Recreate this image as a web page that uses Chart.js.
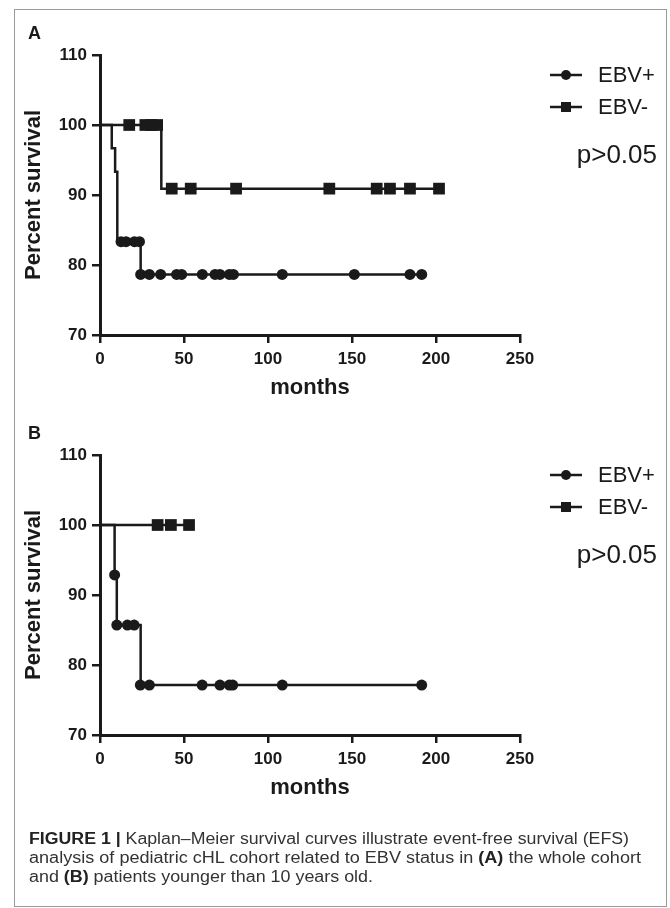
<!DOCTYPE html>
<html>
<head>
<meta charset="utf-8">
<script src="https://cdn.jsdelivr.net/npm/chart.js@4/dist/chart.umd.min.js"></script>
<style>
  html, body { margin:0; padding:0; background:#fff; }
  body { width:670px; height:908px; position:relative; overflow:hidden; font-family:"Liberation Sans", Arial, sans-serif; }
  .frame { position:absolute; left:14px; top:9px; width:651px; height:896px; border:1px solid #9a9a9a; }
  canvas { position:absolute; left:0; }
  .cap { position:absolute; left:29px; white-space:nowrap; font-size:16px; line-height:19px; color:#333; transform-origin:0 0; }
  .cap b { color:#222; }
</style>
</head>
<body>
<div class="frame"></div>
<canvas id="chartA" width="670" height="420" style="top:0"></canvas>
<canvas id="chartB" width="670" height="420" style="top:400px"></canvas>
<div class="cap" id="cap1" data-w="600" style="top:829px"><b>FIGURE 1 |</b> Kaplan–Meier survival curves illustrate event-free survival (EFS)</div>
<div class="cap" id="cap2" data-w="612" style="top:848px">analysis of pediatric cHL cohort related to EBV status in <b>(A)</b> the whole cohort</div>
<div class="cap" id="cap3" data-w="344" style="top:867px">and <b>(B)</b> patients younger than 10 years old.</div>
<script>
// ---------- data ----------
const xTicks = [0, 50, 100, 150, 200, 250];
const yTicks = [70, 80, 90, 100, 110];
const seriesNames = ['EBV+', 'EBV-'];
const pValueText = 'p>0.05';

// Panel A (whole cohort): step curves (time, % survival)
const A_pos_stepT = [0, 7, 9, 10.3, 24.2, 191.5];
const A_pos_stepS = [100, 96.67, 93.33, 83.33, 78.66, 78.66];
const A_neg_stepT = [0, 36.5, 202];
const A_neg_stepS = [100, 90.91, 90.91];
// Panel A censored marks
const A_pos_censT = [12.5, 15.5, 20.5, 23.5, 24.2, 29.4, 36.1, 45.6, 48.6, 60.9, 68.5, 71.4, 77.0, 79.4, 108.5, 151.4, 184.5, 191.5];
const A_pos_censS = [83.33, 83.33, 83.33, 83.33, 78.66, 78.66, 78.66, 78.66, 78.66, 78.66, 78.66, 78.66, 78.66, 78.66, 78.66, 78.66, 78.66, 78.66];
const A_neg_censT = [17.4, 27, 30.4, 34, 42.7, 54, 81, 136.5, 164.7, 172.6, 184.5, 201.8];
const A_neg_censS = [100, 100, 100, 100, 90.91, 90.91, 90.91, 90.91, 90.91, 90.91, 90.91, 90.91];

// Panel B (younger than 10 years)
const B_pos_stepT = [0, 8.7, 10, 24.2, 191.5];
const B_pos_stepS = [100, 92.86, 85.71, 77.14, 77.14];
const B_neg_stepT = [0, 53];
const B_neg_stepS = [100, 100];
const B_pos_censT = [8.7, 10, 16.3, 20.3, 24, 29.4, 60.8, 71.4, 77, 79, 108.5, 191.5];
const B_pos_censS = [92.86, 85.71, 85.71, 85.71, 77.14, 77.14, 77.14, 77.14, 77.14, 77.14, 77.14, 77.14];
const B_neg_censT = [34.3, 42.2, 53];
const B_neg_censS = [100, 100, 100];

// ---------- helpers ----------
const FONT = '"Liberation Sans", Arial, sans-serif';
const INK = '#1a1a1a';
const zip = (t, s) => t.map((v, i) => ({x: v, y: s[i]}));

const overlayPlugin = {
  id: 'overlay',
  afterDraw(chart, args, opts) {
    const ctx = chart.ctx;
    ctx.save();
    // panel letter
    ctx.fillStyle = INK;
    ctx.font = 'bold 18px ' + FONT;
    ctx.textAlign = 'left';
    ctx.textBaseline = 'middle';
    ctx.fillText(opts.letter, 28, opts.letterY);
    // legend
    const items = [{name: seriesNames[0], style: 'circle', y: 75}, {name: seriesNames[1], style: 'rect', y: 107}];
    items.forEach(it => {
      ctx.strokeStyle = INK;
      ctx.lineWidth = 2.5;
      ctx.beginPath();
      ctx.moveTo(550, it.y);
      ctx.lineTo(582, it.y);
      ctx.stroke();
      ctx.fillStyle = INK;
      if (it.style === 'circle') {
        ctx.beginPath();
        ctx.arc(566, it.y, 5, 0, Math.PI * 2);
        ctx.fill();
      } else {
        ctx.fillRect(561, it.y - 5, 10, 10);
      }
      ctx.font = '22px ' + FONT;
      ctx.textAlign = 'left';
      ctx.textBaseline = 'middle';
      ctx.fillText(it.name, 598, it.y + 1);
    });
    ctx.font = '26px ' + FONT;
    ctx.textAlign = 'right';
    ctx.textBaseline = 'middle';
    ctx.fillText(pValueText, 657, 156);
    ctx.restore();
  }
};

function makeChart(id, letter, posStep, negStep, posCens, negCens) {
  const tickFont = {family: FONT, size: 17, weight: 'bold'};
  const titleFont = {family: FONT, size: 22, weight: 'bold'};
  return new Chart(document.getElementById(id), {
    type: 'scatter',
    data: {
      datasets: [
        {label: seriesNames[0] + ' curve', data: posStep, showLine: true, stepped: true, borderColor: INK, borderWidth: 2.5, pointRadius: 0, fill: false},
        {label: seriesNames[1] + ' curve', data: negStep, showLine: true, stepped: true, borderColor: INK, borderWidth: 2.5, pointRadius: 0, fill: false},
        {label: seriesNames[0], data: posCens, showLine: false, pointStyle: 'circle', pointRadius: 5.5, backgroundColor: INK, borderColor: INK, borderWidth: 0},
        {label: seriesNames[1], data: negCens, showLine: false, pointStyle: 'rect', pointRadius: 8.3, backgroundColor: INK, borderColor: INK, borderWidth: 0}
      ]
    },
    options: {
      responsive: false,
      animation: false,
      events: [],
      clip: false,
      layout: {padding: {left: 0, top: 55, right: 150, bottom: 19}},
      plugins: {legend: {display: false}, tooltip: {enabled: false}, overlay: {letter: letter, letterY: 34}},
      scales: {
        x: {
          type: 'linear', min: xTicks[0], max: xTicks[xTicks.length - 1],
          afterBuildTicks: s => { s.ticks = xTicks.map(v => ({value: v})); },
          ticks: {font: tickFont, color: INK, padding: 6, maxRotation: 0},
          grid: {display: true, drawOnChartArea: false, drawTicks: true, tickLength: 8, tickColor: INK, tickWidth: 2.5, color: INK, lineWidth: 2.5},
          border: {display: true, color: INK, width: 3},
          title: {display: true, text: 'months', font: titleFont, color: INK, padding: {top: 0, bottom: 0}},
          afterFit: s => { s.height = 66; }
        },
        y: {
          type: 'linear', min: yTicks[0], max: yTicks[yTicks.length - 1],
          afterBuildTicks: s => { s.ticks = yTicks.map(v => ({value: v})); },
          ticks: {font: tickFont, color: INK, padding: 5},
          grid: {display: true, drawOnChartArea: false, drawTicks: true, tickLength: 8, tickColor: INK, tickWidth: 2.5, color: INK, lineWidth: 2.5},
          border: {display: true, color: INK, width: 3},
          title: {display: true, text: 'Percent survival', font: titleFont, color: INK, padding: {top: 21, bottom: 0}},
          afterFit: s => { s.width = 100; }
        }
      }
    },
    plugins: [overlayPlugin]
  });
}

makeChart('chartA', 'A', zip(A_pos_stepT, A_pos_stepS), zip(A_neg_stepT, A_neg_stepS), zip(A_pos_censT, A_pos_censS), zip(A_neg_censT, A_neg_censS));
makeChart('chartB', 'B', zip(B_pos_stepT, B_pos_stepS), zip(B_neg_stepT, B_neg_stepS), zip(B_pos_censT, B_pos_censS), zip(B_neg_censT, B_neg_censS));

// fit caption lines to their measured widths
document.querySelectorAll('.cap').forEach(el => {
  const target = parseFloat(el.dataset.w);
  const w = el.getBoundingClientRect().width;
  if (w > 0) el.style.transform = 'scaleX(' + (target / w) + ')';
});
</script>
</body>
</html>
